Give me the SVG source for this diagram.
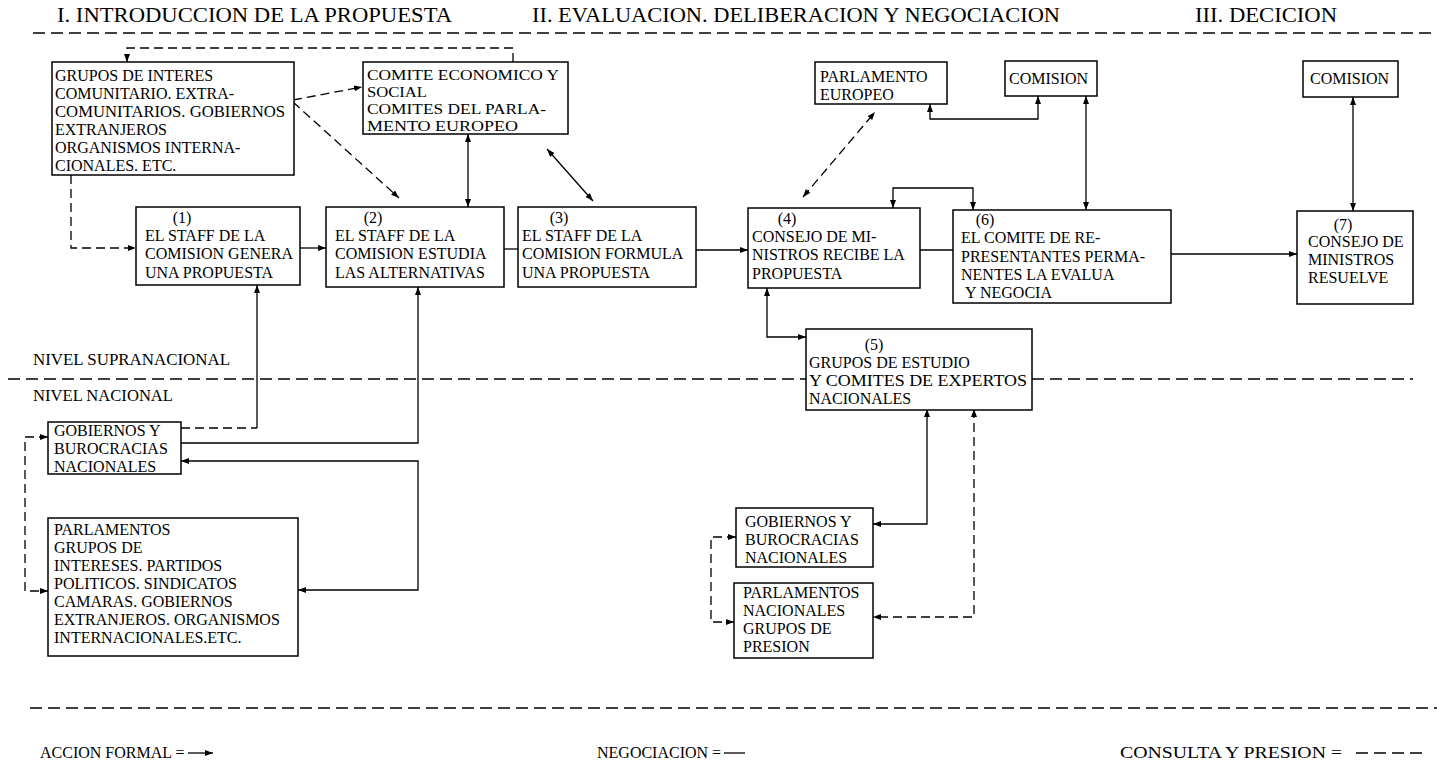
<svg xmlns="http://www.w3.org/2000/svg" width="1437" height="769" viewBox="0 0 1437 769" font-family="'Liberation Serif', 'DejaVu Serif', serif">
<defs>
<style>
.t{font-family:'Liberation Serif','DejaVu Serif',serif;font-size:16px;fill:#000}
.h{font-size:21px}
.s{font-size:15.5px}
.m{text-anchor:middle}
.box{fill:#fff;stroke:#000;stroke-width:1.5}
.c{fill:none;stroke:#000;stroke-width:1.3}
.d{stroke-dasharray:9 5}
.dv{fill:none;stroke:#000;stroke-width:1.3;stroke-dasharray:12 6}
</style>
<marker id="a" viewBox="0 0 8 6" refX="8" refY="3" markerWidth="8" markerHeight="6" markerUnits="userSpaceOnUse" orient="auto-start-reverse"><path d="M0,0 L8,3 L0,6 z" fill="#000"/></marker>
</defs>
<rect width="1437" height="769" fill="#fff"/>

<g id="headers">
<text class="t h" x="57" y="22" textLength="395" lengthAdjust="spacingAndGlyphs">I. INTRODUCCION DE LA PROPUESTA</text>
<text class="t h" x="532" y="22" textLength="528" lengthAdjust="spacingAndGlyphs">II. EVALUACION. DELIBERACION Y NEGOCIACION</text>
<text class="t h" x="1195" y="22" textLength="142" lengthAdjust="spacingAndGlyphs">III. DECICION</text>
<text class="t" x="33" y="365" textLength="197" lengthAdjust="spacingAndGlyphs">NIVEL SUPRANACIONAL</text>
<text class="t" x="33" y="401" textLength="140" lengthAdjust="spacingAndGlyphs">NIVEL NACIONAL</text>
</g>

<g id="dividers">
<path class="dv" d="M33,33 H1437"/>
<path class="dv" d="M8,379 H806 M1032,379 H1413"/>
<path class="dv" d="M30,708 H1437"/>
</g>

<g id="connectors">
<path class="c d" d="M513,62 V48 H127 V62" marker-end="url(#a)"/>
<path class="c d" d="M293,100 L362,87" marker-end="url(#a)"/>
<path class="c d" d="M293,102 L399,198" marker-end="url(#a)"/>
<path class="c d" d="M71,175 V248 H136" marker-end="url(#a)"/>
<path class="c" d="M300,248 H326" marker-end="url(#a)"/>
<path class="c" d="M468,134 V207" marker-start="url(#a)" marker-end="url(#a)"/>
<path class="c" d="M547,149 L593,201" marker-start="url(#a)" marker-end="url(#a)"/>
<path class="c" d="M504,249 H518"/>
<path class="c" d="M696,250 H748" marker-end="url(#a)"/>
<path class="c d" d="M803,197 L875,112" marker-start="url(#a)" marker-end="url(#a)"/>
<path class="c" d="M930,104 V119 H1038 V96" marker-start="url(#a)" marker-end="url(#a)"/>
<path class="c" d="M1086,96 V210" marker-start="url(#a)" marker-end="url(#a)"/>
<path class="c" d="M893,208 V188 H973 V210" marker-start="url(#a)" marker-end="url(#a)"/>
<path class="c" d="M920,250 H953"/>
<path class="c" d="M1171,254 H1297" marker-end="url(#a)"/>
<path class="c" d="M1353,97 V211" marker-start="url(#a)" marker-end="url(#a)"/>
<path class="c" d="M767,288 V337 H806" marker-start="url(#a)" marker-end="url(#a)"/>
<path class="c d" d="M181,428 H257"/>
<path class="c" d="M257,428 V285" marker-end="url(#a)"/>
<path class="c" d="M181,443 H418 V287" marker-end="url(#a)"/>
<path class="c" d="M181,461 H418 V590 H298" marker-start="url(#a)" marker-end="url(#a)"/>
<path class="c d" d="M48,437 H25 V591 H48" marker-start="url(#a)" marker-end="url(#a)"/>
<path class="c" d="M927,409 V524 H873" marker-start="url(#a)" marker-end="url(#a)"/>
<path class="c d" d="M974,409 V617 H873" marker-start="url(#a)" marker-end="url(#a)"/>
<path class="c d" d="M736,537 H711 V622 H734" marker-start="url(#a)" marker-end="url(#a)"/>
</g>

<g id="n-grupos">
<rect class="box" x="52" y="62" width="242" height="113"/>
<text class="t" x="55" y="81">GRUPOS DE INTERES</text>
<text class="t" x="55" y="99">COMUNITARIO. EXTRA-</text>
<text class="t" x="55" y="117" textLength="230" lengthAdjust="spacingAndGlyphs">COMUNITARIOS. GOBIERNOS</text>
<text class="t" x="55" y="135">EXTRANJEROS</text>
<text class="t" x="55" y="153">ORGANISMOS INTERNA-</text>
<text class="t" x="55" y="171">CIONALES. ETC.</text>
</g>
<g id="n-comite">
<rect class="box" x="363" y="62" width="205" height="72"/>
<text class="t s" x="367" y="80" textLength="192" lengthAdjust="spacingAndGlyphs">COMITE ECONOMICO Y</text>
<text class="t s" x="367" y="97" textLength="60" lengthAdjust="spacingAndGlyphs">SOCIAL</text>
<text class="t s" x="367" y="114" textLength="179" lengthAdjust="spacingAndGlyphs">COMITES DEL PARLA-</text>
<text class="t s" x="367" y="131" textLength="151" lengthAdjust="spacingAndGlyphs">MENTO EUROPEO</text>
</g>
<g id="n1">
<rect class="box" x="136" y="207" width="164" height="78"/>
<text class="t m" x="182" y="223">(1)</text>
<text class="t" x="145" y="241">EL STAFF DE LA</text>
<text class="t" x="145" y="259">COMISION GENERA</text>
<text class="t" x="145" y="278">UNA PROPUESTA</text>
</g>
<g id="n2">
<rect class="box" x="326" y="207" width="178" height="80"/>
<text class="t m" x="373" y="223">(2)</text>
<text class="t" x="335" y="241">EL STAFF DE LA</text>
<text class="t" x="335" y="259">COMISION ESTUDIA</text>
<text class="t" x="335" y="278">LAS ALTERNATIVAS</text>
</g>
<g id="n3">
<rect class="box" x="518" y="207" width="178" height="80"/>
<text class="t m" x="559" y="223">(3)</text>
<text class="t" x="522" y="241">EL STAFF DE LA</text>
<text class="t" x="522" y="259">COMISION FORMULA</text>
<text class="t" x="522" y="278">UNA PROPUESTA</text>
</g>
<g id="n4">
<rect class="box" x="748" y="208" width="172" height="80"/>
<text class="t m" x="787" y="224">(4)</text>
<text class="t" x="752" y="242">CONSEJO DE MI-</text>
<text class="t" x="752" y="260">NISTROS RECIBE LA</text>
<text class="t" x="752" y="279">PROPUESTA</text>
</g>
<g id="n-parlamento-europeo">
<rect class="box" x="815" y="62" width="132" height="42"/>
<text class="t" x="820" y="82">PARLAMENTO</text>
<text class="t" x="820" y="100">EUROPEO</text>
</g>
<g id="n-comision-1">
<rect class="box" x="1005" y="61" width="92" height="35"/>
<text class="t" x="1009" y="84">COMISION</text>
</g>
<g id="n6">
<rect class="box" x="953" y="210" width="218" height="93"/>
<text class="t m" x="985" y="225">(6)</text>
<text class="t" x="961" y="243">EL COMITE DE RE-</text>
<text class="t" x="961" y="262">PRESENTANTES PERMA-</text>
<text class="t" x="961" y="280">NENTES LA EVALUA</text>
<text class="t" x="965" y="298">Y NEGOCIA</text>
</g>
<g id="n-comision-2">
<rect class="box" x="1303" y="61" width="95" height="36"/>
<text class="t" x="1310" y="84">COMISION</text>
</g>
<g id="n7">
<rect class="box" x="1297" y="211" width="116" height="93"/>
<text class="t m" x="1343" y="230">(7)</text>
<text class="t" x="1308" y="247">CONSEJO DE</text>
<text class="t" x="1308" y="265">MINISTROS</text>
<text class="t" x="1308" y="283">RESUELVE</text>
</g>
<g id="n5">
<rect class="box" x="806" y="329" width="226" height="81"/>
<text class="t m" x="874" y="350">(5)</text>
<text class="t" x="809" y="368">GRUPOS DE ESTUDIO</text>
<text class="t" x="809" y="386" textLength="218" lengthAdjust="spacingAndGlyphs">Y COMITES DE EXPERTOS</text>
<text class="t" x="809" y="404">NACIONALES</text>
</g>
<g id="n-gobiernos-1">
<rect class="box" x="48" y="422" width="133" height="52"/>
<text class="t" x="54" y="436">GOBIERNOS Y</text>
<text class="t" x="54" y="454">BUROCRACIAS</text>
<text class="t" x="54" y="472">NACIONALES</text>
</g>
<g id="n-parlamentos-1">
<rect class="box" x="48" y="518" width="250" height="138"/>
<text class="t" x="54" y="535">PARLAMENTOS</text>
<text class="t" x="54" y="553">GRUPOS DE</text>
<text class="t" x="54" y="571">INTERESES. PARTIDOS</text>
<text class="t" x="54" y="589">POLITICOS. SINDICATOS</text>
<text class="t" x="54" y="607">CAMARAS. GOBIERNOS</text>
<text class="t" x="54" y="625">EXTRANJEROS. ORGANISMOS</text>
<text class="t" x="54" y="643">INTERNACIONALES.ETC.</text>
</g>
<g id="n-gobiernos-2">
<rect class="box" x="736" y="508" width="137" height="59"/>
<text class="t" x="745" y="527">GOBIERNOS Y</text>
<text class="t" x="745" y="545">BUROCRACIAS</text>
<text class="t" x="745" y="563">NACIONALES</text>
</g>
<g id="n-parlamentos-2">
<rect class="box" x="734" y="583" width="139" height="75"/>
<text class="t" x="743" y="598">PARLAMENTOS</text>
<text class="t" x="743" y="616">NACIONALES</text>
<text class="t" x="743" y="634">GRUPOS DE</text>
<text class="t" x="743" y="652">PRESION</text>
</g>

<g id="legend">
<text class="t" x="40" y="758">ACCION FORMAL =</text>
<path class="c" d="M188,753 H213" marker-end="url(#a)"/>
<text class="t" x="597" y="758">NEGOCIACION =</text>
<path class="c" d="M724,753 H745"/>
<text class="t" x="1120" y="758" textLength="222" lengthAdjust="spacingAndGlyphs">CONSULTA Y PRESION =</text>
<path class="c" d="M1356,753 H1422" stroke-dasharray="12 6"/>
</g>
</svg>
